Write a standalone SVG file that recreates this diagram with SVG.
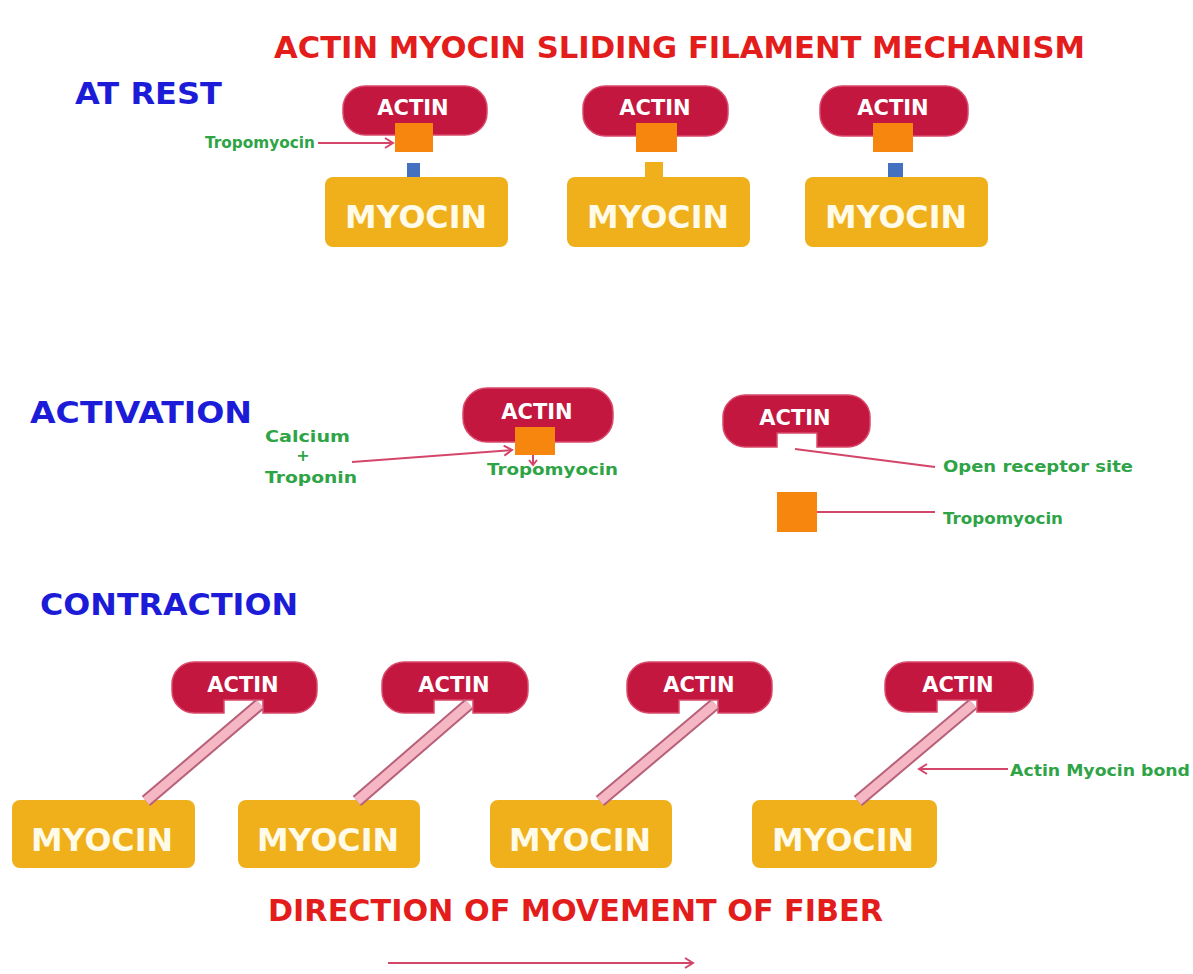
<svg xmlns="http://www.w3.org/2000/svg" width="1193" height="974" viewBox="0 0 1193 974">
<defs>
<style>
.h{font-family:"DejaVu Sans",Verdana,sans-serif;font-weight:bold;font-size:30px}
.red{fill:#e31c1c}
.blue{fill:#1c1cd8}
.actin{fill:#c3173f;stroke:#d94a6a;stroke-width:1.5}
.myo{fill:#f0b01c}
.orange{fill:#f7860f}
.bsq{fill:#4470c0}
.at{font-family:"DejaVu Sans",Verdana,sans-serif;font-weight:bold;font-size:21px;fill:#ffffff;text-anchor:middle}
.mt{font-family:"DejaVu Sans",Verdana,sans-serif;font-weight:bold;font-size:32px;fill:#fffbe8;text-anchor:middle}
.g{font-family:"DejaVu Sans",Verdana,sans-serif;font-weight:bold;font-size:16px;fill:#2ea446}
.ln{stroke:#d4456a;stroke-width:2;fill:none}
.bo{stroke:#b8607a;stroke-width:13;stroke-linecap:butt}
.bi{stroke:#f5b7c4;stroke-width:9;stroke-linecap:butt}
</style>
<marker id="ah" markerWidth="12" markerHeight="12" refX="9" refY="6" orient="auto" markerUnits="userSpaceOnUse">
<path d="M1,1 L9,6 L1,11" fill="none" stroke="#d4456a" stroke-width="2"/>
</marker>
</defs>
<rect width="1193" height="974" fill="#ffffff"/>

<g id="titles">
<text class="h red" x="274" y="58" textLength="811" lengthAdjust="spacingAndGlyphs">ACTIN MYOCIN SLIDING FILAMENT MECHANISM</text>
<text class="h blue" x="75" y="104" textLength="147" lengthAdjust="spacingAndGlyphs">AT REST</text>
<text class="h blue" x="30" y="423" textLength="222" lengthAdjust="spacingAndGlyphs">ACTIVATION</text>
<text class="h blue" x="40" y="615" textLength="258" lengthAdjust="spacingAndGlyphs">CONTRACTION</text>
<text class="h red" x="268" y="921" textLength="615" lengthAdjust="spacingAndGlyphs">DIRECTION OF MOVEMENT OF FIBER</text>
</g>

<!-- AT REST -->
<g id="rest1">
<rect class="actin" x="343" y="86" width="144" height="49" rx="22"/>
<text class="at" x="413" y="115">ACTIN</text>
<rect class="orange" x="395" y="123" width="38" height="29"/>
<rect class="bsq" x="407" y="163" width="13" height="14"/>
<rect class="myo" x="325" y="177" width="183" height="70" rx="8"/>
<text class="mt" x="416" y="228" textLength="142" lengthAdjust="spacingAndGlyphs">MYOCIN</text>
</g>
<g id="rest2">
<rect class="actin" x="583" y="86" width="145" height="50" rx="22"/>
<text class="at" x="655" y="115">ACTIN</text>
<rect class="orange" x="636" y="123" width="41" height="29"/>
<rect class="myo" x="645" y="162" width="18" height="18"/>
<rect class="myo" x="567" y="177" width="183" height="70" rx="8"/>
<text class="mt" x="658" y="228" textLength="142" lengthAdjust="spacingAndGlyphs">MYOCIN</text>
</g>
<g id="rest3">
<rect class="actin" x="820" y="86" width="148" height="50" rx="22"/>
<text class="at" x="893" y="115">ACTIN</text>
<rect class="orange" x="873" y="123" width="40" height="29"/>
<rect class="bsq" x="888" y="163" width="15" height="14"/>
<rect class="myo" x="805" y="177" width="183" height="70" rx="8"/>
<text class="mt" x="896" y="228" textLength="142" lengthAdjust="spacingAndGlyphs">MYOCIN</text>
</g>
<g id="rest-label">
<text class="g" x="205" y="148" font-size="13" textLength="110" lengthAdjust="spacingAndGlyphs">Tropomyocin</text>
</g>

<!-- ACTIVATION -->
<g id="act1">
<rect class="actin" x="463" y="388" width="150" height="54" rx="24"/>
<text class="at" x="537" y="419">ACTIN</text>
<rect class="orange" x="515" y="427" width="40" height="28"/>
</g>
<g id="act-labels">
<text class="g" x="265" y="442" textLength="85" lengthAdjust="spacingAndGlyphs">Calcium</text>
<text class="g" x="303" y="461" font-size="13" text-anchor="middle">+</text>
<text class="g" x="265" y="483" textLength="92" lengthAdjust="spacingAndGlyphs">Troponin</text>
<text class="g" x="487" y="475" textLength="131" lengthAdjust="spacingAndGlyphs">Tropomyocin</text>
</g>
<g id="act2">
<path class="actin" d="M745,395 H848 A22,22 0 0 1 870,417 V425 A22,22 0 0 1 848,447 H817 V433 H777 V447 H745 A22,22 0 0 1 723,425 V417 A22,22 0 0 1 745,395 Z"/>
<text class="at" x="795" y="425">ACTIN</text>
<text class="g" x="943" y="472" textLength="190" lengthAdjust="spacingAndGlyphs">Open receptor site</text>
</g>
<g id="act-tropo">
<rect class="orange" x="777" y="492" width="40" height="40"/>
<text class="g" x="943" y="524" textLength="120" lengthAdjust="spacingAndGlyphs">Tropomyocin</text>
</g>

<!-- CONTRACTION -->
<g id="c1">
<path class="actin" d="M194,662 H295 A22,22 0 0 1 317,684 V691 A22,22 0 0 1 295,713 H263 V700 H224 V713 H194 A22,22 0 0 1 172,691 V684 A22,22 0 0 1 194,662 Z"/>
<text class="at" x="243" y="692">ACTIN</text>
<rect class="myo" x="12" y="800" width="183" height="68" rx="8"/>
<text class="mt" x="102" y="851" textLength="142" lengthAdjust="spacingAndGlyphs">MYOCIN</text>
</g>
<g id="c2">
<path class="actin" d="M404,662 H506 A22,22 0 0 1 528,684 V691 A22,22 0 0 1 506,713 H473 V700 H434 V713 H404 A22,22 0 0 1 382,691 V684 A22,22 0 0 1 404,662 Z"/>
<text class="at" x="454" y="692">ACTIN</text>
<rect class="myo" x="238" y="800" width="182" height="68" rx="8"/>
<text class="mt" x="328" y="851" textLength="142" lengthAdjust="spacingAndGlyphs">MYOCIN</text>
</g>
<g id="c3">
<path class="actin" d="M649,662 H750 A22,22 0 0 1 772,684 V691 A22,22 0 0 1 750,713 H718 V700 H679 V713 H649 A22,22 0 0 1 627,691 V684 A22,22 0 0 1 649,662 Z"/>
<text class="at" x="699" y="692">ACTIN</text>
<rect class="myo" x="490" y="800" width="182" height="68" rx="8"/>
<text class="mt" x="580" y="851" textLength="142" lengthAdjust="spacingAndGlyphs">MYOCIN</text>
</g>
<g id="c4">
<path class="actin" d="M907,662 H1011 A22,22 0 0 1 1033,684 V690 A22,22 0 0 1 1011,712 H977 V700 H937 V712 H907 A22,22 0 0 1 885,690 V684 A22,22 0 0 1 907,662 Z"/>
<text class="at" x="958" y="692">ACTIN</text>
<rect class="myo" x="752" y="800" width="185" height="68" rx="8"/>
<text class="mt" x="843" y="851" textLength="142" lengthAdjust="spacingAndGlyphs">MYOCIN</text>
</g>
<g id="c-label">
<text class="g" x="1010" y="776" font-size="15" textLength="180" lengthAdjust="spacingAndGlyphs">Actin Myocin bond</text>
</g>

<g id="connectors">
<line class="ln" x1="318" y1="143" x2="393" y2="143" marker-end="url(#ah)"/>
<line class="ln" x1="352" y1="462" x2="512" y2="450" marker-end="url(#ah)"/>
<line class="ln" x1="533" y1="455" x2="533" y2="464"/>
<path d="M529,460 L533,465 L537,460" class="ln" stroke-width="1.5"/>
<line class="ln" x1="795" y1="449" x2="935" y2="467"/>
<line class="ln" x1="817" y1="512" x2="935" y2="512"/>
<line class="bo" x1="260" y1="704" x2="146" y2="801"/>
<line class="bi" x1="260" y1="704" x2="146" y2="801"/>
<line class="bo" x1="469" y1="704" x2="357" y2="801"/>
<line class="bi" x1="469" y1="704" x2="357" y2="801"/>
<line class="bo" x1="715" y1="704" x2="600" y2="801"/>
<line class="bi" x1="715" y1="704" x2="600" y2="801"/>
<line class="bo" x1="973" y1="704" x2="858" y2="801"/>
<line class="bi" x1="973" y1="704" x2="858" y2="801"/>
<line class="ln" x1="1008" y1="769" x2="919" y2="769" marker-end="url(#ah)"/>
<line class="ln" x1="388" y1="963" x2="693" y2="963" marker-end="url(#ah)"/>
</g>
</svg>
